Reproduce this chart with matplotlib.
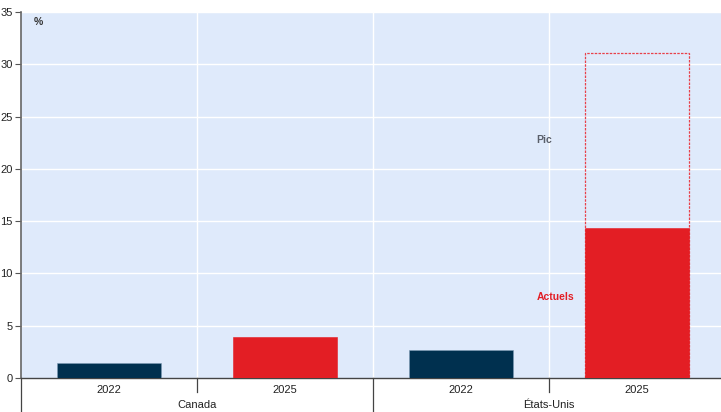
import matplotlib
matplotlib.use("Agg")
import matplotlib.pyplot as plt
import numpy as np

plt.rcParams['font.family'] = ['Liberation Sans', 'DejaVu Sans']

years = ["2022", "2025", "2022", "2025"]
groups = ["Canada", "États-Unis"]
actuels = [1.4, 3.9, 2.7, 14.3]
pic = [None, None, None, 31.1]
bar_colors = ["#00304f", "#e31e24", "#00304f", "#e31e24"]
edge_colors = ["#7f9cb5", "#e31e24", "#7f9cb5", "#e31e24"]
yticks = [0, 5, 10, 15, 20, 25, 30, 35]

fig = plt.figure(figsize=(7.21, 4.12), dpi=100)
ax = fig.add_axes([21/721, 34/412, 704/721, 366/412])
ax.set_facecolor("#dfeafb")

x = np.arange(len(years))
ax.set_xlim(-0.5, len(years) - 0.5)
ax.set_ylim(0, 35)

# peak outline
for i, p in enumerate(pic):
    if p is not None:
        ax.bar(x[i], p, width=0.59, fill=False, edgecolor="#e8414a",
               linestyle=(0, (2, 1)), linewidth=0.9, zorder=2)
ax.bar(x, actuels, width=0.59, color=bar_colors, edgecolor=edge_colors,
       linewidth=0.4, zorder=3)

# grid
for v in yticks[1:]:
    ax.axhline(v, color="white", lw=1.0, zorder=1)
for b in [0.5, 1.5, 2.5]:
    ax.axvline(b, color="white", lw=1.0, zorder=1)

ax.set_yticks(yticks)
ax.set_yticklabels([str(v) for v in yticks], fontsize=8, color="#222222")
ax.tick_params(axis='y', length=4, width=0.8, color="#555555", pad=2)
ax.set_xticks([])
for s in ["top", "right"]:
    ax.spines[s].set_visible(False)
ax.spines["left"].set_color("#666666")
ax.spines["left"].set_linewidth(1.2)
ax.spines["bottom"].set_color("#444444")
ax.spines["bottom"].set_linewidth(1.0)

# year labels
for i, yl in enumerate(years):
    ax.text(x[i], -1.15, yl, ha="center", va="center", fontsize=8,
            color="#222222", clip_on=False)
# group labels
for g, gname in enumerate(groups):
    ax.text(0.5 + 2 * g, -2.6, gname, ha="center", va="center", fontsize=8,
            color="#222222", clip_on=False)

# separator lines under axis
for b in [-0.5, 1.5]:
    ax.plot([b, b], [0, -3.3], color="#444444", lw=0.9, clip_on=False, zorder=5)
for b in [0.5, 2.5]:
    ax.plot([b, b], [0, -1.35], color="#444444", lw=0.9, clip_on=False, zorder=5)

ax.text(2.43, 22.8, "Pic", ha="left", va="center", fontsize=7.5, fontweight="bold",
        color="#5a5f6a", zorder=6)
ax.text(2.43, 7.7, "Actuels", ha="left", va="center", fontsize=7.5, fontweight="bold",
        color="#e31e24", zorder=6)
ax.text(-0.43, 34.0, "%", ha="left", va="center", fontsize=7.5, fontweight="bold",
        color="#333333", zorder=6)

fig.savefig("out.png", dpi=100)
